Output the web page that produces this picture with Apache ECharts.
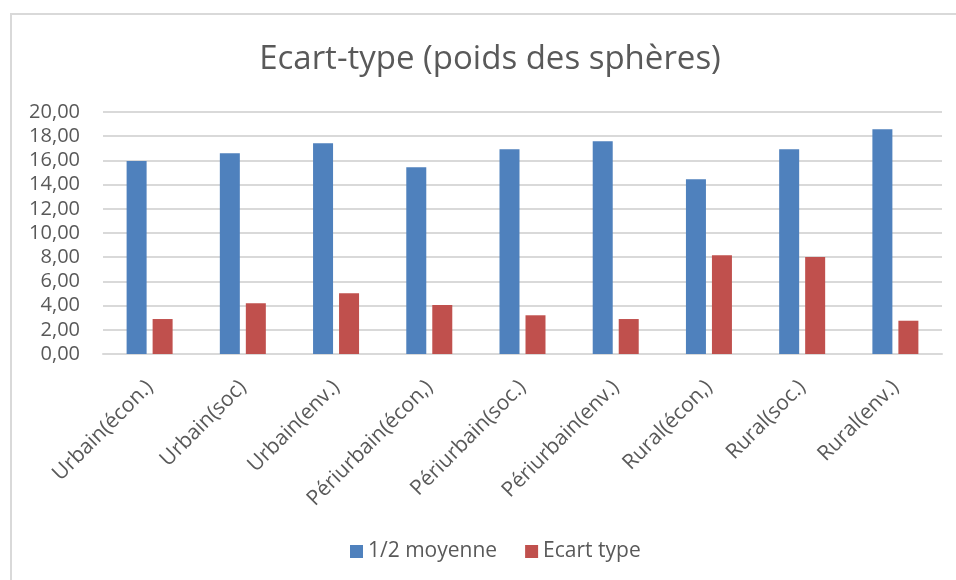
<!DOCTYPE html>
<html>
<head>
<meta charset="utf-8">
<script src="https://cdn.jsdelivr.net/npm/echarts@6/dist/echarts.min.js"></script>
<style>
  html, body { margin: 0; padding: 0; background: #fff; }
  #chart { width: 956px; height: 580px; }
</style>
</head>
<body>
<div id="chart"></div>
<script>
// Catégories et valeurs
var categories = [
  'Urbain(écon.)', 'Urbain(soc)', 'Urbain(env.)',
  'Périurbain(écon,)', 'Périurbain(soc.)', 'Périurbain(env.)',
  'Rural(écon,)', 'Rural(soc.)', 'Rural(env.)'
];
var demiMoyenne = [15.95, 16.60, 17.42, 15.44, 16.93, 17.58, 14.45, 16.93, 18.57];
var ecartType   = [2.89, 4.20, 5.03, 4.04, 3.20, 2.89, 8.16, 8.02, 2.75];
var seriesNames = ['1/2 moyenne', 'Ecart type'];

var FONT = '"Open Sans", "Liberation Sans", sans-serif';
var TXT = '#595959';

var chart = echarts.init(document.getElementById('chart'), null, { renderer: 'canvas' });

chart.setOption({
  backgroundColor: '#ffffff',
  animation: false,
  textStyle: { fontFamily: FONT, color: TXT },
  graphic: [{
    type: 'rect',
    shape: { x: 11, y: 14, width: 1100, height: 800 },
    style: { fill: 'none', stroke: '#d9d9d9', lineWidth: 2 },
    silent: true
  }],
  title: {
    text: 'Ecart-type (poids des sphères)',
    left: 485,
    top: 38,
    textAlign: 'center',
    textStyle: { fontFamily: FONT, fontSize: 33, fontWeight: 'normal', color: TXT }
  },
  legend: {
    data: seriesNames,
    top: 536,
    left: 345,
    icon: 'rect',
    itemWidth: 13,
    itemHeight: 13,
    itemGap: 28,
    textStyle: { fontFamily: FONT, fontSize: 21, color: TXT }
  },
  grid: { left: 103, right: 14, top: 112, bottom: 226, containLabel: false },
  xAxis: {
    type: 'category',
    data: categories,
    axisLine: { lineStyle: { color: '#d9d9d9', width: 2 } },
    axisTick: { show: false },
    axisLabel: {
      rotate: 45,
      margin: 30,
      interval: 0,
      fontFamily: FONT,
      fontSize: 21,
      color: TXT
    }
  },
  yAxis: {
    type: 'value',
    min: 0,
    max: 20,
    interval: 2,
    axisLine: { show: false },
    axisTick: { show: false },
    splitLine: { lineStyle: { color: '#d9d9d9', width: 2 } },
    axisLabel: {
      margin: 23,
      fontFamily: FONT,
      fontSize: 20,
      color: TXT,
      formatter: function (v) { return v.toFixed(2).replace('.', ','); }
    }
  },
  series: [
    {
      name: seriesNames[0],
      type: 'bar',
      data: demiMoyenne,
      barWidth: 20,
      barGap: '30%',
      itemStyle: { color: '#4F81BD' }
    },
    {
      name: seriesNames[1],
      type: 'bar',
      data: ecartType,
      barWidth: 20,
      itemStyle: { color: '#C0504D' }
    }
  ]
});
</script>
</body>
</html>
